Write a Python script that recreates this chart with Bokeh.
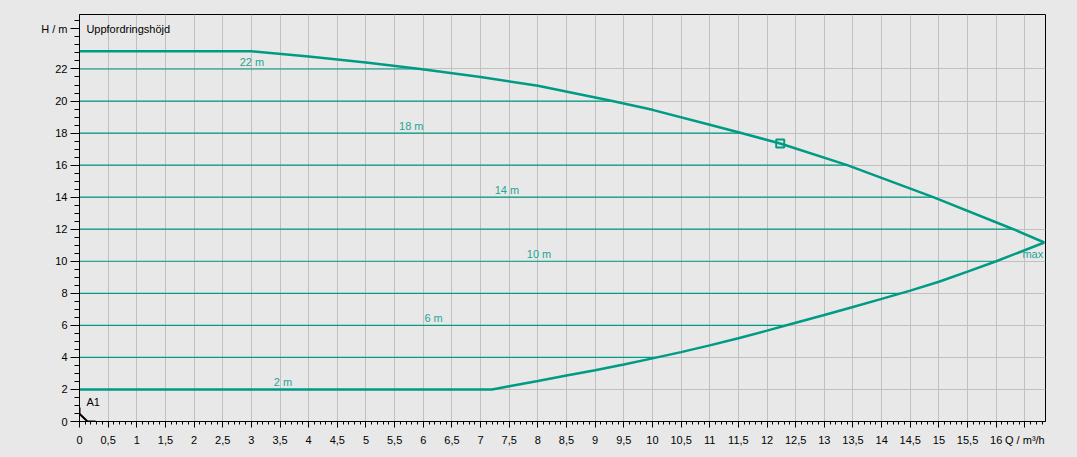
from bokeh.plotting import figure
from bokeh.models import Range1d, FixedTicker, ColumnDataSource
from bokeh.core.properties import value
from bokeh.embed import file_html
from bokeh.resources import INLINE

# ---- data ----
upper_q = [0.0, 3.0, 4.0, 5.0, 5.95, 7.0, 8.0, 9.3, 10.0, 11.0, 11.55, 12.23, 13.4, 14.9, 16.3, 16.84]
upper_h = [23.1, 23.1, 22.78, 22.4, 22.0, 21.5, 20.95, 20.0, 19.45, 18.52, 18.0, 17.35, 16.0, 14.0, 12.0, 11.17]

lower_q = [0.0, 7.2, 7.5, 8.0, 8.5, 9.0, 9.5, 10.0, 10.5, 11.0, 11.5, 12.0, 12.5, 13.0, 13.5,
           14.0, 14.5, 15.0, 15.5, 16.0, 16.84]
lower_h = [2.0, 2.0, 2.2, 2.53, 2.87, 3.2, 3.56, 3.94, 4.33, 4.75, 5.2, 5.67, 6.16, 6.65, 7.15,
           7.65, 8.17, 8.72, 9.35, 10.0, 11.17]

ctrl_h = [4, 6, 8, 10, 12, 14, 16, 18, 20, 22]
ctrl_q_end = [10.08, 12.33, 14.33, 16.0, 16.3, 14.9, 13.4, 11.55, 9.3, 5.95]

curve_labels = ["22 m", "18 m", "14 m", "10 m", "6 m", "2 m"]
curve_label_q = [3.01, 5.79, 7.46, 8.02, 6.18, 3.55]
curve_label_h = [22.44, 18.44, 14.44, 10.44, 6.44, 2.44]

op_q = [12.23]
op_h = [17.35]

a1_q = [0.0, 0.0, 0.14, 0.28]
a1_h = [0.87, 0.48, 0.0, 0.0]

x_major = [i * 0.5 for i in range(34)]          # 0 .. 16.5
x_minor = [round(i * 0.1, 1) for i in range(169)]
y_major = [0, 2, 4, 6, 8, 10, 12, 14, 16, 18, 20, 22, 24.5]
y_minor = [i * 0.5 for i in range(51)]
y_grid = [0, 2, 4, 6, 8, 10, 12, 14, 16, 18, 20, 22]
x_title = "Q / m³/h"
y_title = "H / m"

# ---- styling ----
BG = "#e8e8e8"
TEAL = "#009b84"
TEAL_TXT = "#1fa596"
GRID = "#c0c0c0"
FONT = "Liberation Sans"

p = figure(width=1069, height=449, output_backend="svg", toolbar_location=None,
           x_range=Range1d(0, 16.86), y_range=Range1d(0, 25.4),
           min_border_left=79, min_border_right=24, min_border_top=14, min_border_bottom=28)
p.background_fill_color = BG
p.border_fill_color = BG
p.outline_line_color = "black"
p.outline_line_width = 1

# grids
p.xgrid.ticker = FixedTicker(ticks=x_major)
p.ygrid.ticker = FixedTicker(ticks=y_grid)
p.xgrid.grid_line_color = GRID
p.ygrid.grid_line_color = GRID

# axes
xa = p.xaxis[0]
xa.ticker = FixedTicker(ticks=x_major, minor_ticks=x_minor)
xa.major_label_overrides = {t: (x_title if t == 16.5 else f"{t:g}".replace(".", ",")) for t in x_major}
ya = p.yaxis[0]
ya.ticker = FixedTicker(ticks=y_major, minor_ticks=y_minor)
ya.major_label_overrides = {t: (y_title if t == 24.5 else f"{t:g}") for t in y_major}
for ax in (xa, ya):
    ax.axis_line_color = "black"
    ax.major_tick_line_color = "black"
    ax.minor_tick_line_color = "black"
    ax.major_tick_in = 0
    ax.minor_tick_in = 0
    ax.major_label_text_font = FONT
    ax.major_label_text_font_size = "11px"
    ax.major_label_text_color = "black"
xa.major_tick_out = 6
xa.minor_tick_out = 3
xa.major_label_standoff = 6
ya.major_tick_out = 9
ya.minor_tick_out = 5
ya.major_label_standoff = 3

# control lines
p.segment(x0=[0] * len(ctrl_h), y0=ctrl_h, x1=ctrl_q_end, y1=ctrl_h, line_color=TEAL, line_width=1.2)

# max / min curves
p.line(upper_q, upper_h, line_color=TEAL, line_width=2.5)
p.line(lower_q, lower_h, line_color=TEAL, line_width=2.5)

# operating point
p.scatter(op_q, op_h, marker="square", size=8, fill_color=None, line_color=TEAL, line_width=2)

# system curve A1
p.line(a1_q, a1_h, line_color="black", line_width=2)

# curve labels
src = ColumnDataSource(dict(x=curve_label_q, y=curve_label_h, t=curve_labels))
p.text(x="x", y="y", text="t", source=src, text_align="center", text_baseline="middle",
       text_font=value(FONT), text_font_size="11px", text_color=TEAL_TXT)
p.text(x=[16.82], y=[10.48], text=["max"], text_align="right", text_baseline="middle",
       text_font=value(FONT), text_font_size="11px", text_color=TEAL_TXT)
p.text(x=[0.12], y=[24.5], text=["Uppfordringshöjd"], text_align="left", text_baseline="middle",
       text_font=value(FONT), text_font_size="11px", text_color="black")
p.text(x=[0.12], y=[1.2], text=["A1"], text_align="left", text_baseline="middle",
       text_font=value(FONT), text_font_size="11px", text_color="black")

html = file_html(p, INLINE)
html = html.replace("</head>", "<style>body{background:#e8e8e8}</style></head>", 1)
open("out.html", "w").write(html)
